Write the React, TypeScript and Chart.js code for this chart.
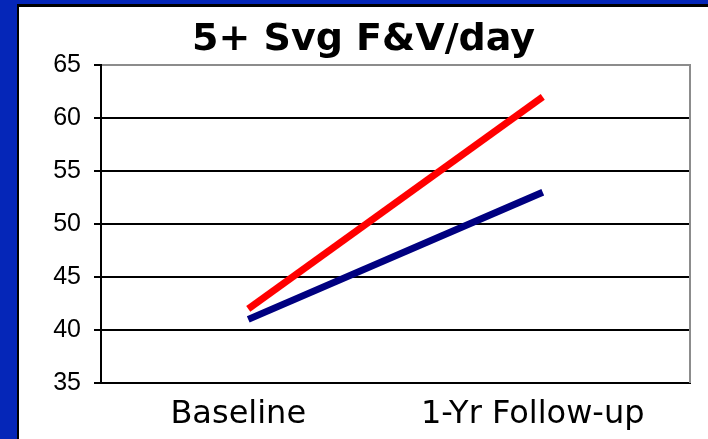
import React, { useEffect, useRef } from "react";
import { Chart, registerables } from "chart.js";

Chart.register(...registerables);

const categories = ["Baseline", "1-Yr Follow-up"];
const redSeries = [42, 62];
const navySeries = [41, 53];
const yMin = 35;
const yMax = 65;
const yStep = 5;
const titleText = "5+ Svg F&V/day";

const rightBorder = {
  id: "rightBorder",
  afterDatasetsDraw(chart: any) {
    const { ctx, chartArea } = chart;
    ctx.save();
    ctx.strokeStyle = "#8c8c8c";
    ctx.lineWidth = 2;
    ctx.beginPath();
    ctx.moveTo(chartArea.right, chartArea.top - 1);
    ctx.lineTo(chartArea.right, chartArea.bottom);
    ctx.stroke();
    ctx.restore();
  },
};

export default function App() {
  const ref = useRef<HTMLCanvasElement>(null);
  useEffect(() => {
    if (!ref.current) return;
    const chart = new Chart(ref.current, {
      type: "line",
      data: {
        labels: categories,
        datasets: [
          {
            label: "Navy",
            data: navySeries,
            borderColor: "#000080",
            backgroundColor: "#000080",
            borderWidth: 7,
            pointRadius: 0,
            tension: 0,
          },
          {
            label: "Red",
            data: redSeries,
            borderColor: "#ff0000",
            backgroundColor: "#ff0000",
            borderWidth: 7,
            pointRadius: 0,
            tension: 0,
          },
        ],
      },
      options: {
        responsive: false,
        animation: false,
        layout: { padding: 0 },
        plugins: {
          legend: { display: false },
          tooltip: { enabled: false },
          title: {
            display: true,
            text: titleText,
            color: "#000",
            font: { family: "DejaVu Sans", size: 38, weight: "bold", lineHeight: 1.2 },
            padding: { top: 10, bottom: 2.4 },
          },
        },
        scales: {
          x: {
            type: "category",
            offset: true,
            grid: { display: false, drawTicks: false },
            border: { display: true, color: "#000", width: 2 },
            ticks: {
              color: "#000",
              padding: 12,
              labelOffset: -10,
              maxRotation: 0,
              font: { family: "DejaVu Sans", size: 32 },
            },
            afterFit(scale: any) {
              scale.height = 56;
            },
          },
          y: {
            min: yMin,
            max: yMax,
            ticks: {
              stepSize: yStep,
              color: "#000",
              padding: 13,
              font: { family: "Liberation Sans", size: 25 },
            },
            grid: {
              color: (c: any) => (c.tick && c.tick.value === yMax ? "#8c8c8c" : "#000"),
              tickColor: "#000",
              lineWidth: 2,
              tickLength: 7,
            },
            border: { display: true, color: "#000", width: 2 },
            afterFit(scale: any) {
              scale.width = 82;
            },
          },
          ySpacer: {
            type: "linear",
            position: "right",
            min: yMin,
            max: yMax,
            grid: { display: false, drawTicks: false },
            border: { display: false },
            ticks: { display: false },
            afterFit(scale: any) {
              scale.width = 18;
            },
          },
        },
      },
      plugins: [rightBorder],
    });
    return () => chart.destroy();
  }, []);

  return (
    <div
      style={{
        position: "fixed",
        left: 0,
        top: 0,
        width: 708,
        height: 439,
        background: "#0526b8",
        overflow: "hidden",
      }}
    >
      <div
        style={{
          position: "absolute",
          left: 17,
          top: 4,
          right: 0,
          bottom: 0,
          background: "#fff",
          borderLeft: "2px solid #000",
          borderTop: "3px solid #000",
          boxSizing: "border-box",
        }}
      >
        <canvas ref={ref} width={689} height={432} style={{ display: "block" }} />
      </div>
    </div>
  );
}
